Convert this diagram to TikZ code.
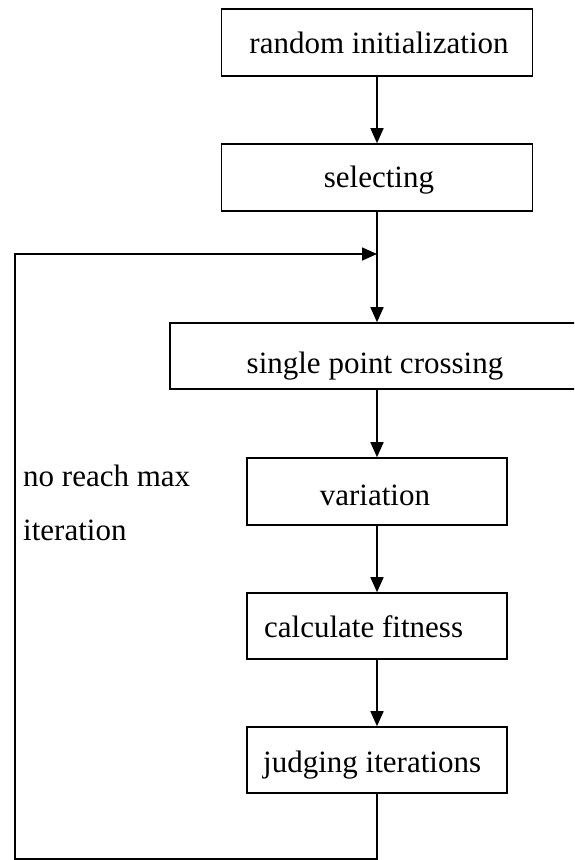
\documentclass[tikz,border=0pt]{standalone}
\usepackage{fontspec}
\setmainfont{Liberation Serif}
\usetikzlibrary{arrows.meta}
\begin{document}
\begin{tikzpicture}[x=1pt,y=-1pt,
  box/.style={draw, line width=1.6pt, inner sep=0pt},
  lbl/.style={anchor=base, font=\fontsize{31}{37}\selectfont, inner sep=0pt},
  lblw/.style={anchor=base west, font=\fontsize{31}{37}\selectfont, inner sep=0pt},
  link/.style={line width=1.6pt, -{Triangle[length=15pt,width=13pt]}},
  plainline/.style={line width=1.6pt}]
\useasboundingbox (0,0) rectangle (574,860);
\clip (0,0) rectangle (574,860);
% boxes
\node[box, minimum width=311pt, minimum height=67pt] (b1) at (377,42.5) {};
\node[box, minimum width=311pt, minimum height=67pt] (b2) at (377,177.5) {};
\node[box, minimum width=420pt, minimum height=66pt] (b3) at (380,356) {};
\node[box, minimum width=260pt, minimum height=67pt] (b4) at (377,491.5) {};
\node[box, minimum width=260pt, minimum height=66pt] (b5) at (377,626) {};
\node[box, minimum width=260pt, minimum height=66pt] (b6) at (377,760) {};
% texts
\node[lbl] (t1) at (379,53) {random initialization};
\node[lbl] (t2) at (379,187) {selecting};
\node[lbl] (t3) at (375,373) {single point crossing};
\node[lbl] (t4) at (375,505) {variation};
\node[lblw] (t5) at (264,637) {calculate fitness};
\node[lblw] (t6) at (263,772) {judging iterations};
\node[lblw] (n1) at (23,486) {no reach max};
\node[lblw] (n2) at (23,540) {iteration};
% connectors
\coordinate (c1) at (377,859);
\coordinate (c2) at (15,859);
\coordinate (c3) at (15,254);
\coordinate (c4) at (377,254);
\draw[link] (b1.south) -- (b2.north);
\draw[link] (b2.south) -- (b2.south |- b3.north);
\draw[link] (b4.north |- b3.south) -- (b4.north);
\draw[link] (b4.south) -- (b5.north);
\draw[link] (b5.south) -- (b6.north);
\draw[link] (b6.south) -- (c1) -- (c2) -- (c3) -- (c4);
\end{tikzpicture}
\end{document}
